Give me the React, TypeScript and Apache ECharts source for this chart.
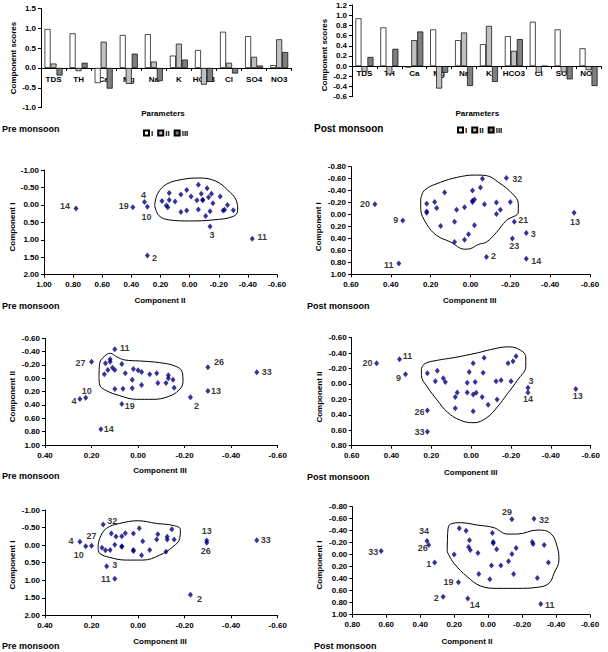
import React, { useEffect, useRef } from "react";
import * as echarts from "echarts";

type Pt = [number, number];
type LPt = [number, number, string];

// ---------- Bar charts (component scores) ----------
const params = ["TDS", "TH", "Ca", "Mg", "Na", "K", "HCO3", "Cl", "SO4", "NO3"];
const preI = [0.98, 0.87, -0.38, 0.83, 0.85, 0.31, 0.45, 0.91, 0.8, 0.07];
const preII = [0.11, -0.08, 0.66, -0.4, 0.16, 0.61, -0.42, 0.13, 0.28, 0.72];
const preIII = [-0.19, 0.13, -0.52, 0.36, -0.33, 0.21, -0.35, -0.14, 0.06, 0.4];
const postI = [0.94, 0.76, -0.03, 0.72, 0.51, 0.43, 0.59, 0.87, 0.72, 0.35];
const postII = [-0.11, -0.16, 0.51, -0.44, 0.66, 0.79, 0.3, -0.13, -0.12, -0.08];
const postIII = [0.18, 0.34, 0.68, -0.13, -0.39, -0.31, 0.53, 0, -0.26, -0.39];

// ---------- Panel 3: Pre monsoon, Component II (x) vs Component I (y) ----------
const p3Cluster: Pt[] = [
  [0.19, -0.11], [0.16, 0.02], [0.15, 0.07], [0.14, -0.34], [0.14, -0.14], [0.1, -0.1],
  [0.06, 0.2], [0.06, -0.3], [0.02, -0.43], [0.02, 0.16], [-0.01, -0.24], [-0.05, -0.13],
  [-0.06, -0.58], [-0.06, 0.13], [-0.08, -0.32], [-0.09, -0.15], [-0.09, -0.13], [-0.11, 0.32],
  [-0.12, -0.48], [-0.13, -0.22], [-0.14, 0.18], [-0.15, -0.32], [-0.16, -0.05], [-0.21, -0.24],
  [-0.23, 0.16], [-0.24, 0.14], [-0.26, 0.0], [-0.3, 0.15],
];
const p3Labeled: LPt[] = [
  [0.78, 0.1, "14"], [0.39, 0.07, "19"], [0.31, -0.08, "4"], [0.29, 0.05, "10"],
  [-0.14, 0.62, "3"], [-0.43, 0.97, "11"], [0.29, 1.45, "2"],
];
const p3Outline: Pt[] = [
  [0.24, 0.02], [0.22, -0.32], [0.16, -0.59], [0.05, -0.73], [-0.07, -0.77], [-0.18, -0.68],
  [-0.26, -0.43], [-0.32, -0.13], [-0.33, 0.16], [-0.3, 0.33], [-0.16, 0.43], [0.0, 0.46],
  [0.14, 0.43], [0.21, 0.31], [0.24, 0.02],
];

// ---------- Panel 4: Post monsoon, Component III (x) vs Component I (y) ----------
const p4Cluster: Pt[] = [
  [-0.06, -0.6], [-0.05, -0.45], [-0.01, -0.4], [0.13, -0.37], [0.22, -0.18], [0.18, -0.21],
  [-0.02, -0.25], [-0.01, -0.23], [-0.01, -0.21], [-0.07, -0.17], [-0.13, -0.2], [-0.2, -0.21],
  [0.22, -0.05], [0.22, -0.03], [0.17, -0.11], [0.07, -0.08], [0.03, -0.12], [-0.15, -0.08],
  [-0.13, -0.01], [0.08, 0.12], [0.15, 0.19], [-0.02, 0.18], [0.01, 0.33], [0.03, 0.42],
  [0.08, 0.46],
];
const p4Labeled: LPt[] = [
  [0.48, -0.17, "20"], [0.34, 0.1, "9"], [0.36, 0.82, "11"], [-0.18, -0.61, "32"],
  [-0.22, 0.12, "21"], [-0.28, 0.31, "3"], [-0.21, 0.4, "23"], [-0.08, 0.71, "2"],
  [-0.28, 0.74, "14"], [-0.52, -0.03, "13"],
];
const p4Outline: Pt[] = [
  [0.25, -0.26], [0.23, -0.41], [0.15, -0.54], [0.07, -0.62], [-0.02, -0.66], [-0.08, -0.65],
  [-0.14, -0.54], [-0.21, -0.35], [-0.24, -0.18], [-0.24, -0.04], [-0.18, 0.1], [-0.13, 0.3],
  [-0.08, 0.46], [-0.04, 0.5], [0.0, 0.57], [0.03, 0.58], [0.1, 0.46], [0.17, 0.35],
  [0.22, 0.16], [0.25, -0.1], [0.25, -0.26],
];

// ---------- Panel 5: Pre monsoon, Component III (x) vs Component II (y) ----------
const p5Cluster: Pt[] = [
  [0.12, -0.285], [0.12, -0.25], [0.14, -0.225], [0.11, -0.16], [0.13, -0.125], [0.145, -0.06],
  [0.1, -0.125], [0.07, -0.215], [0.055, -0.075], [0.02, -0.14], [0.0, -0.12], [-0.015, -0.095],
  [-0.05, -0.06], [-0.08, -0.075], [-0.13, -0.045], [-0.13, 0.0], [-0.15, 0.02], [0.025, 0.02],
  [-0.085, 0.07], [-0.12, 0.07], [-0.015, 0.1], [-0.155, 0.14], [0.025, 0.15], [0.065, 0.155],
  [0.1, 0.16],
];
const p5Labeled: LPt[] = [
  [0.1, -0.435, "11"], [0.2, -0.25, "27"], [-0.3, -0.165, "26"], [-0.51, -0.09, "33"],
  [0.225, 0.29, "10"], [0.25, 0.31, "4"], [-0.3, 0.19, "13"], [-0.225, 0.285, "2"],
  [0.07, 0.385, "19"], [0.16, 0.765, "14"],
];
const p5Outline: Pt[] = [
  [0.168, -0.025], [0.165, -0.225], [0.143, -0.335], [0.119, -0.375], [0.093, -0.325],
  [0.057, -0.275], [-0.007, -0.26], [-0.093, -0.235], [-0.158, -0.185], [-0.189, -0.1],
  [-0.193, 0.05], [-0.176, 0.175], [-0.129, 0.275], [-0.064, 0.315], [0.007, 0.315],
  [0.079, 0.26], [0.136, 0.185], [0.165, 0.1], [0.168, -0.025],
];

// ---------- Panel 6: Post monsoon, Component III (x) vs Component II (y) ----------
const p6Cluster: Pt[] = [
  [0.22, -0.14], [0.17, -0.17], [0.18, -0.035], [0.14, -0.075], [0.13, -0.025], [0.07, 0.11],
  [0.08, 0.17], [0.08, 0.315], [0.02, -0.015], [0.02, 0.11], [0.01, -0.155], [-0.01, -0.27],
  [-0.02, -0.025], [-0.01, 0.135], [-0.025, 0.115], [-0.065, -0.34], [-0.06, -0.145],
  [-0.055, 0.17], [-0.085, 0.27], [-0.125, -0.035], [-0.15, -0.05], [-0.13, 0.2],
  [-0.185, -0.27], [-0.21, -0.295], [-0.225, -0.36], [-0.2, -0.035], [-0.01, 0.355],
];
const p6Labeled: LPt[] = [
  [0.475, -0.27, "20"], [0.36, -0.32, "11"], [0.33, -0.125, "9"], [-0.285, 0.05, "3"],
  [-0.285, 0.11, "14"], [-0.525, 0.065, "13"], [0.22, 0.345, "26"], [0.22, 0.62, "33"],
];
const p6Outline: Pt[] = [
  [0.25, -0.2], [0.233, -0.264], [0.17, -0.307], [0.086, -0.342], [-0.031, -0.403],
  [-0.098, -0.446], [-0.182, -0.481], [-0.232, -0.459], [-0.274, -0.351], [-0.274, -0.229],
  [-0.232, -0.048], [-0.182, 0.126], [-0.131, 0.299], [-0.078, 0.437], [-0.014, 0.502],
  [0.053, 0.472], [0.12, 0.364], [0.17, 0.212], [0.22, 0.039], [0.25, -0.113], [0.25, -0.2],
];

// ---------- Panel 7: Pre monsoon, Component III (x) vs Component I (y) ----------
const p7Cluster: Pt[] = [
  [0.155, 0.075], [0.14, 0.15], [0.12, 0.14], [0.1, -0.01], [0.115, -0.33], [0.095, -0.245],
  [0.07, -0.255], [0.055, -0.34], [0.07, 0.05], [0.07, 0.03], [0.02, -0.33], [0.02, 0.14],
  [0.02, 0.17], [-0.005, -0.48], [-0.02, -0.11], [-0.015, 0.29], [-0.05, 0.14], [-0.08, -0.16],
  [-0.085, -0.31], [-0.125, -0.24], [-0.125, -0.16], [-0.12, 0.19], [-0.145, -0.45],
  [-0.155, -0.16],
];
const p7Labeled: LPt[] = [
  [0.15, -0.59, "32"], [0.25, -0.095, "4"], [0.2, 0.02, "27"], [0.225, 0.03, "10"],
  [0.135, 0.6, "3"], [0.1, 0.96, "11"], [-0.295, -0.13, "13"], [-0.295, -0.07, "26"],
  [-0.51, -0.14, "33"], [-0.225, 1.415, "2"],
];
const p7Outline: Pt[] = [
  [0.172, 0.095], [0.165, -0.19], [0.136, -0.475], [0.079, -0.617], [0.0, -0.693],
  [-0.079, -0.617], [-0.15, -0.56], [-0.182, -0.446], [-0.179, -0.19], [-0.15, 0.047],
  [-0.093, 0.285], [-0.021, 0.427], [0.05, 0.427], [0.122, 0.351], [0.165, 0.237],
  [0.172, 0.095],
];

// ---------- Panel 8: Post monsoon, Component II (x) vs Component I (y) ----------
const p8Cluster: Pt[] = [
  [0.17, -0.44], [0.13, -0.4], [0.11, -0.24], [0.115, -0.13], [0.105, -0.08], [0.2, -0.005],
  [0.06, -0.03], [0.055, 0.32], [-0.025, -0.36], [-0.03, -0.21], [-0.03, -0.19], [-0.05, -0.09],
  [-0.02, 0.18], [-0.01, 0.41], [-0.075, 0.18], [-0.12, 0.11], [-0.14, -0.01], [-0.165, -0.11],
  [-0.15, 0.32], [-0.26, -0.21], [-0.265, -0.18], [-0.33, -0.16], [-0.355, 0.13], [-0.29, 0.39],
];
const p8Labeled: LPt[] = [
  [-0.14, -0.59, "29"], [-0.27, -0.6, "32"], [0.36, -0.23, "34"], [0.35, -0.16, "26"],
  [0.63, -0.06, "33"], [0.315, 0.13, "1"], [0.175, 0.46, "19"], [0.265, 0.7, "2"],
  [0.12, 0.73, "14"], [-0.31, 0.82, "11"],
];
const p8Outline: Pt[] = [
  [0.241, -0.05], [0.237, -0.411], [0.221, -0.511], [0.162, -0.533], [0.064, -0.494],
  [-0.034, -0.45], [-0.113, -0.344], [-0.172, -0.344], [-0.289, -0.411], [-0.368, -0.356],
  [-0.407, -0.133], [-0.417, 0.089], [-0.388, 0.311], [-0.358, 0.478], [-0.289, 0.544],
  [-0.172, 0.561], [-0.054, 0.561], [0.044, 0.522], [0.123, 0.367], [0.201, 0.144],
  [0.241, -0.05],
];

// ---------- Label placement (style, px offsets) ----------
const p3Off: Record<string, Pt> = { "14": [-11, -2], "19": [-9, -1], "4": [-1, -7], "10": [-1, 10], "3": [2, 8], "11": [10, -2], "2": [7, 2] };
const p4Off: Record<string, Pt> = { "20": [-10, 0], "9": [-7, -1], "11": [-10, 1], "32": [11, 1], "21": [9, -2], "3": [7, 1], "23": [2, 8], "2": [7, -1], "14": [10, 2], "13": [1, 9] };
const p5Off: Record<string, Pt> = { "11": [10, -1], "27": [-11, 1], "26": [11, -5], "33": [10, 0], "10": [1, -7], "4": [-6, 2], "13": [8, 0], "2": [6, 9], "19": [8, 2], "14": [8, 0] };
const p6Off: Record<string, Pt> = { "20": [-9, 0], "11": [8, -3], "9": [-7, 4], "3": [3, -7], "14": [0, 7], "13": [2, 7], "26": [-8, 1], "33": [-8, 0] };
const p7Off: Record<string, Pt> = { "32": [9, -3], "4": [-9, -1], "27": [0, -10], "10": [-7, 9], "3": [8, -1], "11": [-9, 0], "13": [0, -10], "26": [-1, 8], "33": [9, 0], "2": [9, 4] };
const p8Off: Record<string, Pt> = { "29": [-5, -7], "32": [10, 1], "34": [-3, -10], "26": [-6, 3], "33": [-8, 1], "1": [-6, 1], "19": [-10, 0], "2": [-7, 1], "14": [7, 6], "11": [9, 1] };

const FONT = "Liberation Sans, Arial, sans-serif";
const NAVY = "#000080";

const fmt = (v: number, d: number) => {
  const s = Number(v).toFixed(d);
  return /^-0\.0+$/.test(s) ? s.slice(1) : s;
};

interface ScatterPanel {
  cluster: Pt[];
  labeled: LPt[];
  outline: Pt[];
  off: Record<string, Pt>;
  grid: { left: number; top: number; width: number; height: number };
  x: [number, number, number];
  y: [number, number, number];
  title: string;
  xName: string;
  yName: string;
  titlePos: Pt;
  xNamePos: Pt;
  yNamePos: Pt;
}

const scatterPanels: ScatterPanel[] = [
  { cluster: p3Cluster, labeled: p3Labeled, outline: p3Outline, off: p3Off, grid: { left: 44, top: 170, width: 233, height: 104.7 }, x: [-0.6, 1.0, 0.2], y: [-1, 2, 0.5], title: "Pre monsoon", xName: "Component II", yName: "Component I", titlePos: [2, 305.7], xNamePos: [160, 300.7], yNamePos: [12, 227] },
  { cluster: p4Cluster, labeled: p4Labeled, outline: p4Outline, off: p4Off, grid: { left: 351, top: 166.7, width: 239, height: 107.6 }, x: [-0.6, 0.6, 0.2], y: [-0.8, 1.0, 0.2], title: "Post monsoon", xName: "Component III", yName: "Component I", titlePos: [307, 305.7], xNamePos: [469.7, 300], yNamePos: [318, 226.7] },
  { cluster: p5Cluster, labeled: p5Labeled, outline: p5Outline, off: p5Off, grid: { left: 45, top: 338.3, width: 232.7, height: 106.7 }, x: [-0.6, 0.4, 0.2], y: [-0.6, 1.0, 0.2], title: "Pre monsoon", xName: "Component III", yName: "Component II", titlePos: [2, 475.7], xNamePos: [160, 470.7], yNamePos: [12, 396.7] },
  { cluster: p6Cluster, labeled: p6Labeled, outline: p6Outline, off: p6Off, grid: { left: 351.7, top: 337.7, width: 239, height: 108 }, x: [-0.6, 0.6, 0.2], y: [-0.6, 0.8, 0.2], title: "Post monsoon", xName: "Component III", yName: "Component II", titlePos: [307, 477], xNamePos: [470.7, 472.3], yNamePos: [319, 397] },
  { cluster: p7Cluster, labeled: p7Labeled, outline: p7Outline, off: p7Off, grid: { left: 45, top: 510, width: 232.7, height: 105.3 }, x: [-0.6, 0.4, 0.2], y: [-1, 2, 0.5], title: "Pre monsoon", xName: "Component III", yName: "Component I", titlePos: [2, 645.7], xNamePos: [160, 641], yNamePos: [12, 565] },
  { cluster: p8Cluster, labeled: p8Labeled, outline: p8Outline, off: p8Off, grid: { left: 352.3, top: 506.7, width: 237.7, height: 108 }, x: [-0.6, 0.8, 0.2], y: [-0.8, 1.0, 0.2], title: "Post monsoon", xName: "Component II", yName: "Component I", titlePos: [314, 645.7], xNamePos: [467, 641], yNamePos: [319, 565] },
];

const axisText = { fontFamily: FONT, fontWeight: "bold" as const, color: "#000" };

function textEl(text: string, x: number, y: number, size: number, align: string, rot = 0) {
  return {
    type: "text",
    x,
    y,
    rotation: rot,
    silent: true,
    style: {
      text,
      fill: "#000",
      fontSize: size,
      fontWeight: "bold",
      fontFamily: FONT,
      align,
      verticalAlign: "middle",
    },
  };
}

function buildOption() {
  const grids: any[] = [];
  const xAxes: any[] = [];
  const yAxes: any[] = [];
  const series: any[] = [];
  const graphics: any[] = [];

  // Bar panels
  const barPanels = [
    { grid: { left: 41, top: 8.3, width: 250.7, height: 99.4 }, y: [-1, 1.5, 0.5], data: [preI, preII, preIII], labelMargin: 8 },
    { grid: { left: 352, top: 5, width: 249, height: 91.7 }, y: [-0.6, 1.2, 0.2], data: [postI, postII, postIII], labelMargin: 3 },
  ];
  const barColors = ["#ffffff", "#c0c0c0", "#7f7f7f"];
  const barNames = ["I", "II", "III"];
  barPanels.forEach((bp, i) => {
    grids.push({ ...bp.grid, containLabel: false, outerBoundsMode: "none" });
    // place the category axis (line, ticks and labels) on the zero line
    const zeroOffset = -((0 - bp.y[0]) / (bp.y[1] - bp.y[0])) * bp.grid.height;
    xAxes.push({
      type: "category",
      gridIndex: i,
      data: params,
      position: "bottom",
      offset: zeroOffset,
      axisLine: { show: true, onZero: false, lineStyle: { color: "#000", width: 1 } },
      axisTick: { show: true, length: 3, interval: 0, lineStyle: { color: "#000" } },
      axisLabel: { ...axisText, fontSize: 8, interval: 0, margin: bp.labelMargin },
      splitLine: { show: false },
      z: 0,
    });
    yAxes.push({
      type: "value",
      gridIndex: i,
      min: bp.y[0],
      max: bp.y[1],
      interval: bp.y[2],
      axisLine: { show: true, lineStyle: { color: "#000", width: 1 } },
      axisTick: { show: true, length: 3, lineStyle: { color: "#000" } },
      axisLabel: { ...axisText, fontSize: 8, margin: 5, formatter: (v: number) => fmt(v, 1) },
      splitLine: { show: false },
    });
    bp.data.forEach((arr, k) => {
      series.push({
        type: "bar",
        name: barNames[k],
        xAxisIndex: i,
        yAxisIndex: i,
        data: arr,
        barWidth: 6,
        barGap: "0%",
        itemStyle: { color: barColors[k], borderColor: "#000", borderWidth: 0.7 },
        silent: true,
        z: 3,
      });
    });
  });
  graphics.push(textEl("Component scores", 13, 58, 8, "center", Math.PI / 2));
  graphics.push(textEl("Parameters", 163, 113.5, 8, "center"));
  graphics.push(textEl("Pre monsoon", 2, 128.5, 9, "left"));
  graphics.push(textEl("Component scores", 324.7, 55, 8, "center", Math.PI / 2));
  graphics.push(textEl("Parameters", 477.3, 113.5, 8, "center"));
  graphics.push(textEl("Post monsoon", 314, 128.5, 10, "left"));

  // Scatter panels
  scatterPanels.forEach((sp, j) => {
    const gi = j + 2;
    grids.push({ ...sp.grid, containLabel: false, outerBoundsMode: "none" });
    xAxes.push({
      type: "value",
      gridIndex: gi,
      min: sp.x[0],
      max: sp.x[1],
      interval: sp.x[2],
      inverse: true,
      axisLine: { show: true, onZero: false, lineStyle: { color: "#000", width: 1 } },
      axisTick: { show: true, length: 3, lineStyle: { color: "#000" } },
      axisLabel: { ...axisText, fontSize: 8, margin: 6, formatter: (v: number) => fmt(v, 2) },
      splitLine: { show: false },
    });
    yAxes.push({
      type: "value",
      gridIndex: gi,
      min: sp.y[0],
      max: sp.y[1],
      interval: sp.y[2],
      inverse: true,
      axisLine: { show: true, onZero: false, lineStyle: { color: "#000", width: 1 } },
      axisTick: { show: true, length: 3, lineStyle: { color: "#000" } },
      axisLabel: { ...axisText, fontSize: 8, margin: 5, formatter: (v: number) => fmt(v, 2) },
      splitLine: { show: false },
    });
    series.push({
      type: "line",
      xAxisIndex: gi,
      yAxisIndex: gi,
      data: sp.outline,
      smooth: 0.4,
      symbol: "none",
      silent: true,
      lineStyle: { color: "#000", width: 1 },
      z: 1,
    });
    series.push({
      type: "scatter",
      xAxisIndex: gi,
      yAxisIndex: gi,
      data: sp.cluster,
      symbol: "diamond",
      symbolSize: [5, 6],
      itemStyle: { color: NAVY },
      silent: true,
      z: 3,
    });
    series.push({
      type: "scatter",
      xAxisIndex: gi,
      yAxisIndex: gi,
      data: sp.labeled.map((p) => ({
        name: p[2],
        value: [p[0], p[1]],
        label: {
          show: true,
          position: "inside",
          offset: sp.off[p[2]] || [8, 0],
          formatter: "{b}",
          fontSize: 9,
          fontWeight: "bold",
          fontFamily: FONT,
          color: "#000",
        },
      })),
      symbol: "diamond",
      symbolSize: [5, 6],
      itemStyle: { color: NAVY },
      silent: true,
      z: 3,
    });
    graphics.push(textEl(sp.title, sp.titlePos[0], sp.titlePos[1], 9, "left"));
    graphics.push(textEl(sp.xName, sp.xNamePos[0], sp.xNamePos[1], 8, "center"));
    graphics.push(textEl(sp.yName, sp.yNamePos[0], sp.yNamePos[1], 8, "center", Math.PI / 2));
  });

  const legendBase = {
    data: barNames,
    orient: "horizontal",
    icon: "rect",
    itemWidth: 5,
    itemHeight: 5,
    itemGap: 4,
    padding: 0,
    selectedMode: false,
    textStyle: { fontSize: 8, fontWeight: "bold", fontFamily: FONT, color: "#000", padding: [0, 0, 0, -3] },
  };

  return {
    animation: false,
    backgroundColor: "#ffffff",
    grid: grids,
    xAxis: xAxes,
    yAxis: yAxes,
    series,
    legend: [
      { ...legendBase, left: 143, top: 129 },
      { ...legendBase, left: 457, top: 126 },
    ],
    graphic: graphics,
  };
}

export default function App() {
  const ref = useRef<HTMLDivElement>(null);
  useEffect(() => {
    if (!ref.current) return;
    const chart = echarts.init(ref.current, undefined, { renderer: "svg" });
    chart.setOption(buildOption() as any);
    return () => chart.dispose();
  }, []);
  return (
    <div
      ref={ref}
      style={{ position: "fixed", left: 0, top: 0, width: 608, height: 652, background: "#fff" }}
    />
  );
}
